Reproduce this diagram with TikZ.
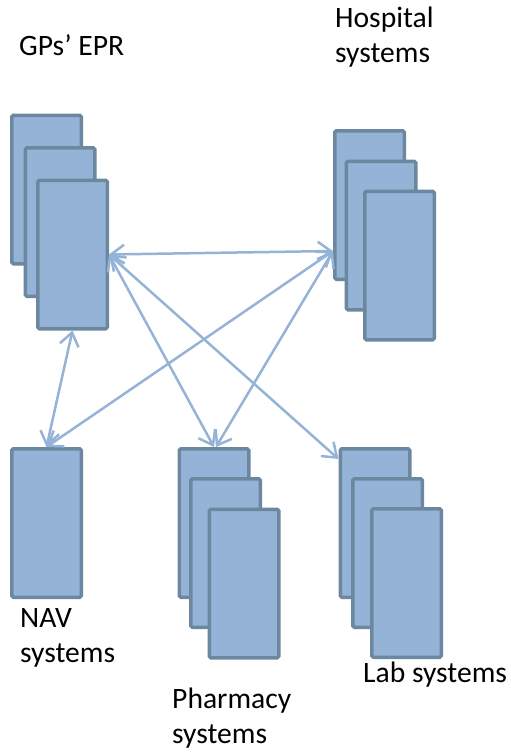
\documentclass[tikz,border=0pt]{standalone}
\usepackage{fontspec}
\setmainfont{Carlito}
\usetikzlibrary{arrows.meta}
\definecolor{boxfill}{RGB}{149,179,215}
\definecolor{boxline}{RGB}{108,136,160}
\definecolor{arr}{RGB}{149,179,215}
\begin{document}
\begin{tikzpicture}[x=1pt,y=-1pt,
  sysbox/.style={draw=boxline,fill=boxfill,line width=3.5pt,minimum width=69.5pt,minimum height=148.5pt,inner sep=0pt,rounded corners=1.5pt},
  link/.style={draw=arr,line width=2.5pt,{Straight Barb[length=13pt,width=19pt]}-{Straight Barb[length=13pt,width=19pt]}},
  lbl/.style={font=\fontsize{29.6}{35}\selectfont,align=left,anchor=base west,inner sep=0pt}]
\useasboundingbox (0,0) rectangle (511,752);
% GPs' EPR stack
\node[sysbox] (g1) at (46.5,189.5) {};
\node[sysbox] (g2) at (60,222) {};
\node[sysbox] (g3) at (72.5,254.5) {};
% Hospital stack
\node[sysbox] (h1) at (369.5,205) {};
\node[sysbox] (h2) at (381,235.5) {};
\node[sysbox] (h3) at (399.5,265.5) {};
% NAV
\node[sysbox] (nav) at (46.5,523) {};
% Pharmacy stack
\node[sysbox] (p1) at (214,523) {};
\node[sysbox] (p2) at (225.5,553) {};
\node[sysbox] (p3) at (244,583.5) {};
% Lab stack
\node[sysbox] (l1) at (375,523) {};
\node[sysbox] (l2) at (387.5,553) {};
\node[sysbox] (l3) at (406.5,583) {};
% labels (anchor = baseline of the last line)
\node[lbl] (tg) at (19,56) {GPs’ EPR};
\node[lbl] (th) at (335,63) {Hospital\\systems};
\node[lbl] (tn) at (20,662) {NAV\\systems};
\node[lbl] (tp) at (172,743) {Pharmacy\\systems};
\node[lbl] (tl) at (363,682) {Lab systems};
% connectors
\coordinate (gpt) at (g3.east);
\coordinate (hpt) at ([yshift=-46pt]h1.west);
\coordinate (lpt) at ([yshift=-12pt]l1.north west);
\draw[link] (gpt) -- (hpt);
\draw[link] (gpt) -- (p1.north);
\draw[link] (gpt) -- (lpt);
\draw[link] (hpt) -- (nav.north);
\draw[link] (hpt) -- ([xshift=2pt]p1.north);
\draw[link] (g3.south) -- (nav.north);
\end{tikzpicture}
\end{document}
